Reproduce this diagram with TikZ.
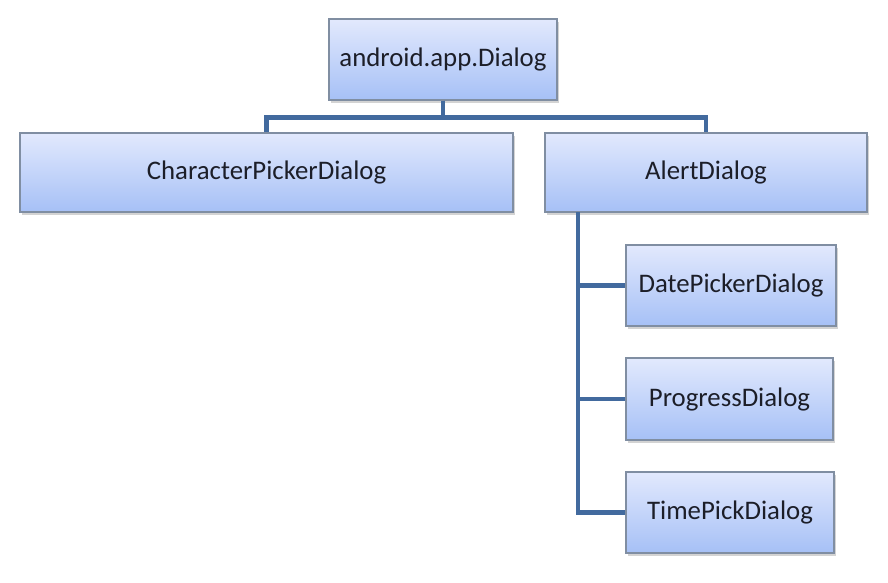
\documentclass[tikz,border=0pt]{standalone}
\usepackage{fontspec}
\setmainfont{Carlito}
\usetikzlibrary{shadows}
\definecolor{boxtop}{RGB}{226,233,253}
\definecolor{boxbot}{RGB}{166,192,246}
\definecolor{boxline}{RGB}{128,142,162}
\definecolor{linkblue}{RGB}{66,106,158}
\definecolor{ink}{RGB}{28,30,40}
\begin{document}
\begin{tikzpicture}
   [x=1pt,y=-1pt,
    every node/.style={rectangle,draw=boxline,line width=1.2pt,top color=boxtop,bottom color=boxbot,
      text=ink,font=\fontsize{26.8}{30}\selectfont,inner sep=0pt,
      drop shadow={shadow xshift=2pt,shadow yshift=-3pt,opacity=.35}},
    link/.style={draw=linkblue,line width=4.5pt}]
  \useasboundingbox (0,0) rectangle (888,582);

  \node[minimum width=228pt,minimum height=81pt] (dlg)   at (443,59.5)  {android.app.Dialog};
  \node[minimum width=493pt,minimum height=79pt] (cpd)   at (266.5,172.5) {CharacterPickerDialog};
  \node[minimum width=322pt,minimum height=79pt] (alert) at (706,172.5) {AlertDialog};
  \node[minimum width=210pt,minimum height=81pt] (date)  at (731,285.5) {DatePickerDialog};
  \node[minimum width=207pt,minimum height=82pt] (prog)  at (729.5,399) {ProgressDialog};
  \node[minimum width=208pt,minimum height=81pt] (time)  at (730,512.5) {TimePickDialog};

  \coordinate (spine) at (578,212);

  \foreach \to in {cpd, alert}
    \draw[link] (dlg.south) -- ++(0,17) -| (\to.north);
  \foreach \to in {date, prog, time}
    \draw[link] (spine) |- (\to.west);

\end{tikzpicture}
\end{document}
